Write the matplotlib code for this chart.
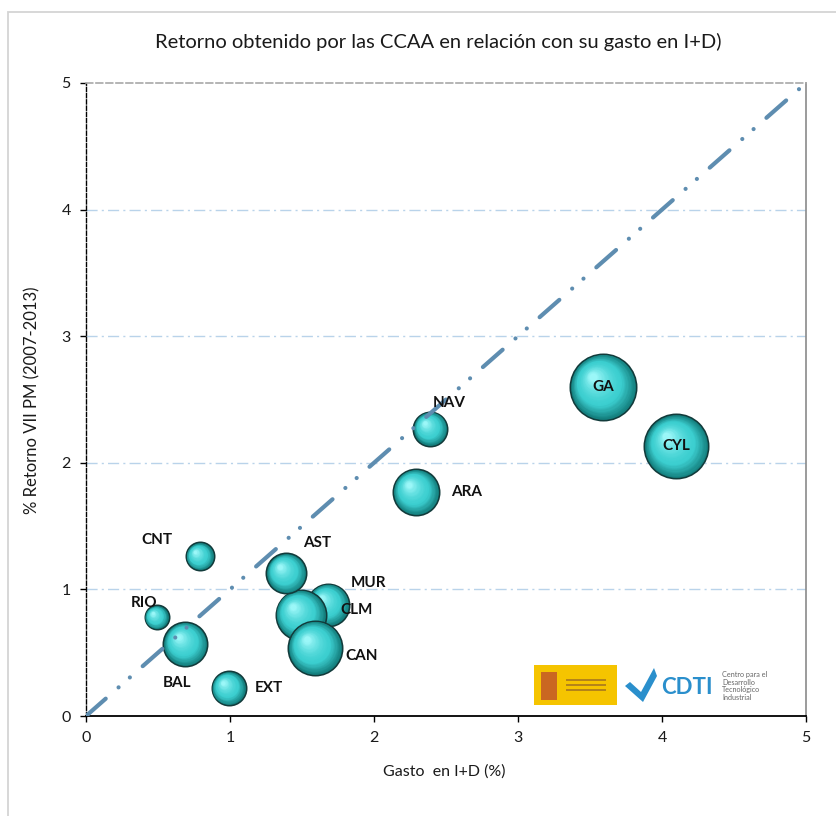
import numpy as np
import matplotlib
matplotlib.use("Agg")
import matplotlib.pyplot as plt
from matplotlib.transforms import ScaledTranslation
from matplotlib.patches import Rectangle, Polygon
from matplotlib.colors import to_rgb

# ---------------- data ----------------
regiones = ["CNT", "RIO", "BAL", "EXT", "MUR", "CLM", "AST", "CAN", "NAV", "ARA", "GA", "CYL"]
gasto_id = [0.79, 0.49, 0.69, 0.99, 1.68, 1.49, 1.39, 1.59, 2.39, 2.29, 3.59, 4.10]
retorno = [1.26, 0.78, 0.57, 0.22, 0.88, 0.80, 1.13, 0.54, 2.27, 1.77, 2.60, 2.13]
peso = [225, 169, 529, 324, 484, 676, 441, 784, 324, 576, 1156, 1089]

diag_x = [0, 5]
diag_y = [0, 5]

x_ticks = [0, 1, 2, 3, 4, 5]
y_ticks = [0, 1, 2, 3, 4, 5]

title = "Retorno obtenido por las CCAA en relación con su gasto en I+D)"
xlabel = "Gasto  en I+D (%)"
ylabel = "% Retorno VII PM (2007-2013)"

# label offsets (pixels)
label_off = {
    "CNT": (-43, 16), "RIO": (-12, 14), "BAL": (-8, -39), "EXT": (40, 0),
    "MUR": (41, 22), "CLM": (56, 5), "AST": (31, 30), "CAN": (47, -8),
    "NAV": (19, 26), "ARA": (51, 0), "GA": (0, 0), "CYL": (0, 0),
}

FONT = ["Lato", "DejaVu Sans"]
plt.rcParams["font.family"] = FONT

W, H, DPI = 837, 816, 100
fig = plt.figure(figsize=(W / DPI, H / DPI), dpi=DPI)
fig.patch.set_facecolor("white")

# outer chart border
fig.add_artist(Rectangle((8 / W, -0.05), 1.2, 1 - 12 / H + 0.05, transform=fig.transFigure,
                         fill=False, edgecolor="#d4d4d4", lw=1.3))

ax = fig.add_axes([86 / W, 1 - 716 / H, 720 / W, 633 / H])
ax.set_xlim(0, 5)
ax.set_ylim(0, 5)
ax.set_facecolor("white")

# grid lines
for yv in y_ticks[1:-1]:
    ax.axhline(yv, color="#b9d3ea", lw=1.0, ls=(0, (8, 3, 1.5, 3)), zorder=1)

# spines
ax.spines["left"].set_color("#000000")
ax.spines["left"].set_linestyle((0, (3, 1.5)))
ax.spines["left"].set_linewidth(1.0)
ax.spines["bottom"].set_color("#000000")
ax.spines["bottom"].set_linewidth(1.3)
ax.spines["top"].set_color("#a8a8a8")
ax.spines["top"].set_linestyle((0, (4, 2)))
ax.spines["top"].set_linewidth(1.2)
ax.spines["right"].set_color("#8a8a8a")
ax.spines["right"].set_linewidth(1.2)

ax.set_xticks(x_ticks)
ax.set_yticks(y_ticks)
ax.set_xticklabels([str(v) for v in x_ticks], fontsize=11.5, color="#1a1a1a")
ax.set_yticklabels([str(v) for v in y_ticks], fontsize=11.5, color="#1a1a1a")
ax.tick_params(axis="both", direction="out", length=4, width=1, color="#000000", pad=7)

# bubbles with pseudo-3D shading
px2pt = 72.0 / DPI
c_rim = np.array(to_rgb("#14807f"))
c_mid = np.array(to_rgb("#3ccfd0"))
c_hi = np.array(to_rgb("#9bf7f8"))
N = 30
for xi, yi, p in zip(gasto_id, retorno, peso):
    r = np.sqrt(p)  # radius in px
    s_full = (2 * r * px2pt) ** 2
    ax.scatter([xi], [yi], s=s_full, color="#123b3b", lw=0, zorder=2)
    s_in = (2 * (r - 1.6) * px2pt) ** 2
    for k in range(N):
        t = k / (N - 1)
        f = 1 - 0.88 * t
        if t < 0.35:
            col = c_rim + (c_mid - c_rim) * (t / 0.35)
        else:
            col = c_mid + (c_hi - c_mid) * ((t - 0.35) / 0.65) ** 1.6
        dx = -0.30 * r * t / DPI
        dy = 0.30 * r * t / DPI
        tr = ax.transData + ScaledTranslation(dx, dy, fig.dpi_scale_trans)
        ax.scatter([xi], [yi], s=s_in * f * f, color=tuple(col), lw=0, zorder=2,
                   transform=tr)

# diagonal reference line
ax.plot(diag_x, diag_y, color="#5e8db0", lw=3.0, dashes=(6.3, 4.1, 0.01, 3.6, 0.01, 4.1),
        dash_capstyle="round", zorder=3, clip_on=True)

# labels
for name, xi, yi in zip(regiones, gasto_id, retorno):
    ox, oy = label_off[name]
    ax.annotate(name, (xi, yi), xytext=(ox * px2pt, oy * px2pt), textcoords="offset points",
                ha="center", va="center", fontsize=11, fontweight="bold", color="#111111",
                zorder=4)

# titles
fig.text(438 / W, 1 - 42 / H, title, ha="center", va="center", fontsize=14.5, color="#1a1a1a")
fig.text(444 / W, 1 - 772 / H, xlabel, ha="center", va="center", fontsize=11.5, color="#1a1a1a")
fig.text(32 / W, 1 - 400 / H, ylabel, ha="center", va="center", rotation=90, fontsize=12,
         color="#1a1a1a")

# logos (approximate)
fig.add_artist(Rectangle((534 / W, 1 - 705 / H), 83 / W, 40 / H, transform=fig.transFigure,
                         facecolor="#f5c400", edgecolor="none", zorder=5))
fig.add_artist(Rectangle((541 / W, 1 - 700 / H), 16 / W, 28 / H, transform=fig.transFigure,
                         facecolor="#c0502a", edgecolor="none", zorder=6, alpha=0.8))
for i in range(3):
    fig.add_artist(Rectangle((566 / W, 1 - (681 + i * 5) / H), 40 / W, 2 / H,
                             transform=fig.transFigure, facecolor="#8a5a2a",
                             edgecolor="none", zorder=6, alpha=0.6))
fig.add_artist(Polygon([(625 / W, 1 - 686 / H), (630 / W, 1 - 682 / H), (641 / W, 1 - 692 / H),
                        (654 / W, 1 - 668 / H), (657 / W, 1 - 676 / H), (643 / W, 1 - 702 / H)],
                       closed=True, transform=fig.transFigure, facecolor="#2a8fcc",
                       edgecolor="none", zorder=6))
fig.text(687 / W, 1 - 687 / H, "CDTI", ha="center", va="center", fontsize=16, fontweight="bold",
         color="#2a8fcc", zorder=6)
fig.text(722 / W, 1 - 686 / H, "Centro para el\nDesarrollo\nTecnológico\nIndustrial",
         ha="left", va="center", fontsize=5.2, color="#666666", linespacing=1.1, zorder=6)

fig.savefig("out.png", dpi=DPI)
